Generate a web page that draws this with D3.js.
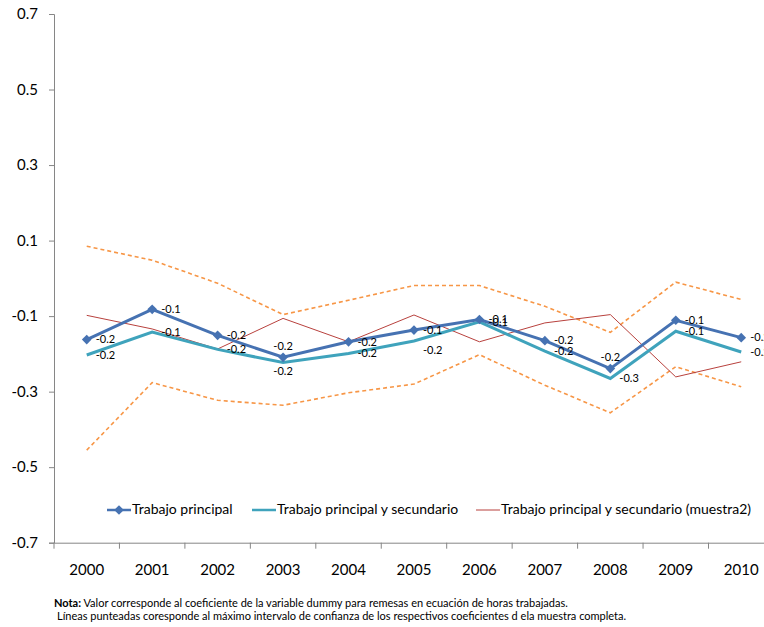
<!DOCTYPE html>
<html>
<head>
<meta charset="utf-8">
<script src="https://cdn.jsdelivr.net/npm/d3@7"></script>
<style>
    body { margin: 0; background: #fff; }
    svg { display: block; font-family: Lato, 'Open Sans', sans-serif; }
</style>
</head>
<body>
<div id="chart"></div>
<script>
'use strict';

const years = ['2000', '2001', '2002', '2003', '2004', '2005', '2006', '2007', '2008', '2009', '2010'];

// Trabajo principal
const principal = [-0.162, -0.082, -0.151, -0.209, -0.168, -0.137, -0.109, -0.165, -0.239, -0.111, -0.157];
// Trabajo principal y secundario
const principalSecundario = [-0.203, -0.142, -0.188, -0.223, -0.199, -0.166, -0.115, -0.193, -0.265, -0.140, -0.195];
// Trabajo principal y secundario (muestra2)
const muestra2 = [-0.098, -0.134, -0.187, -0.106, -0.168, -0.097, -0.168, -0.118, -0.096, -0.261, -0.221];
// confidence interval bounds (dashed)
const upperBound = [0.085, 0.048, -0.013, -0.096, -0.058, -0.019, -0.019, -0.074, -0.143, -0.010, -0.056];
const lowerBound = [-0.455, -0.276, -0.323, -0.336, -0.303, -0.280, -0.202, -0.283, -0.356, -0.234, -0.287];

const yTicks = [0.7, 0.5, 0.3, 0.1, -0.1, -0.3, -0.5, -0.7];

// label placement for the data labels (r = right, a = above, b = below, br = below right)
const principalLabelPos = ['r', 'r', 'r', 'a', 'r', 'r', 'r', 'r', 'a', 'r', 'r'];
const secundarioLabelPos = ['r', 'r', 'r', 'b', 'r', 'br', 'r', 'r', 'r', 'r', 'r'];

const legendNames = ['Trabajo principal', 'Trabajo principal y secundario', 'Trabajo principal y secundario (muestra2)'];

const width = 764;
const height = 627;
const plotLeft = 54;
const plotTop = 14;
const plotBottom = 542.7;
const band = 65.45;

// plain hyphen for negative numbers, like the original
const fmt = d3.formatLocale({
    decimal: '.',
    thousands: ',',
    grouping: [3],
    currency: ['', ''],
    minus: '-'
}).format('.1f');

const svg = d3.select('#chart')
    .append('svg')
    .attr('width', width)
    .attr('height', height);

const x = d3.scaleBand()
    .domain(years)
    .range([plotLeft, plotLeft + band * years.length])
    .padding(0);

const y = d3.scaleLinear()
    .domain([-0.7, 0.7])
    .range([plotBottom, plotTop]);

function cx(i) {
    return x(years[i]) + x.bandwidth() / 2;
}

// y axis
const yAxis = svg.append('g')
    .attr('transform', `translate(${plotLeft},0)`)
    .call(d3.axisLeft(y)
        .tickValues(yTicks)
        .tickSize(5)
        .tickPadding(11)
        .tickFormat(fmt));

yAxis.select('.domain').attr('stroke', '#868686');
yAxis.selectAll('.tick line').attr('stroke', '#868686');
yAxis.selectAll('.tick text')
    .attr('font-size', 15)
    .attr('font-family', 'Lato, sans-serif')
    .attr('fill', '#000');

// x axis: labels at category centres, tick marks between categories
const xAxis = svg.append('g')
    .attr('transform', `translate(0,${plotBottom})`)
    .call(d3.axisBottom(x)
        .tickSize(0)
        .tickPadding(22));

xAxis.select('.domain').attr('stroke', '#868686');
xAxis.selectAll('.tick text')
    .attr('font-size', 15)
    .attr('font-family', 'Lato, sans-serif')
    .attr('fill', '#000');

svg.append('g')
    .selectAll('line')
    .data(years)
    .join('line')
    .attr('x1', d => x(d))
    .attr('x2', d => x(d))
    .attr('y1', plotBottom)
    .attr('y2', plotBottom + 6)
    .attr('stroke', '#868686');

// line generator
const lineGen = d3.line()
    .x((d, i) => cx(i))
    .y(d => y(d));

const plot = svg.append('g');

// dashed interval lines
[upperBound, lowerBound].forEach(function (vals) {
    plot.append('path')
        .attr('d', lineGen(vals))
        .attr('fill', 'none')
        .attr('stroke', '#f79646')
        .attr('stroke-width', 1.6)
        .attr('stroke-dasharray', '4,3');
});

plot.append('path')
    .attr('d', lineGen(muestra2))
    .attr('fill', 'none')
    .attr('stroke', '#b8413d')
    .attr('stroke-width', 1);

plot.append('path')
    .attr('d', lineGen(principalSecundario))
    .attr('fill', 'none')
    .attr('stroke', '#3fa3bc')
    .attr('stroke-width', 3);

plot.append('path')
    .attr('d', lineGen(principal))
    .attr('fill', 'none')
    .attr('stroke', '#4672b2')
    .attr('stroke-width', 3);

const diamond = d3.symbol().type(d3.symbolDiamond2).size(60);

plot.selectAll('path.marker')
    .data(principal)
    .join('path')
    .attr('class', 'marker')
    .attr('d', diamond)
    .attr('transform', (d, i) => `translate(${cx(i)},${y(d)})`)
    .attr('fill', '#4672b2');

// data labels
function drawLabels(vals, pos) {
    plot.append('g')
        .selectAll('text')
        .data(vals)
        .join('text')
        .attr('x', function (d, i) {
            return pos[i] === 'a' || pos[i] === 'b' ? cx(i) : cx(i) + 9;
        })
        .attr('y', function (d, i) {
            if (pos[i] === 'a') return y(d) - 10;
            if (pos[i] === 'b' || pos[i] === 'br') return y(d) + 10;
            return y(d) + 1;
        })
        .attr('text-anchor', (d, i) => pos[i] === 'a' || pos[i] === 'b' ? 'middle' : 'start')
        .attr('dominant-baseline', 'middle')
        .attr('font-size', 11)
        .attr('fill', '#000')
        .text(d => fmt(d));
}

drawLabels(principal, principalLabelPos);
drawLabels(principalSecundario, secundarioLabelPos);

// legend
const legendY = 510;
const legendX = [107, 252, 476];
const legendColours = ['#4672b2', '#3fa3bc', '#b8413d'];
const legendWidths = [2.5, 2.5, 1];

const legend = svg.append('g');

legendNames.forEach(function (name, i) {
    legend.append('line')
        .attr('x1', legendX[i])
        .attr('x2', legendX[i] + 24)
        .attr('y1', legendY)
        .attr('y2', legendY)
        .attr('stroke', legendColours[i])
        .attr('stroke-width', legendWidths[i]);

    if (i === 0) {
        legend.append('path')
            .attr('d', diamond)
            .attr('transform', `translate(${legendX[i] + 12},${legendY})`)
            .attr('fill', legendColours[i]);
    }

    legend.append('text')
        .attr('x', legendX[i] + 25)
        .attr('y', legendY)
        .attr('dominant-baseline', 'middle')
        .attr('font-size', 14)
        .attr('fill', '#000')
        .text(name);
});

// note
const note = svg.append('g')
    .attr('font-size', 11)
    .attr('fill', '#000');

const noteLine1 = note.append('text')
    .attr('x', 54)
    .attr('y', 607);

noteLine1.append('tspan')
    .attr('font-weight', 700)
    .text('Nota:');

noteLine1.append('tspan')
    .text(' Valor corresponde al coeficiente de la variable dummy para remesas en ecuación de horas trabajadas.');

note.append('text')
    .attr('x', 57)
    .attr('y', 620)
    .text('Líneas punteadas coresponde al máximo intervalo de confianza de los respectivos coeficientes d ela muestra completa.');
</script>
</body>
</html>
